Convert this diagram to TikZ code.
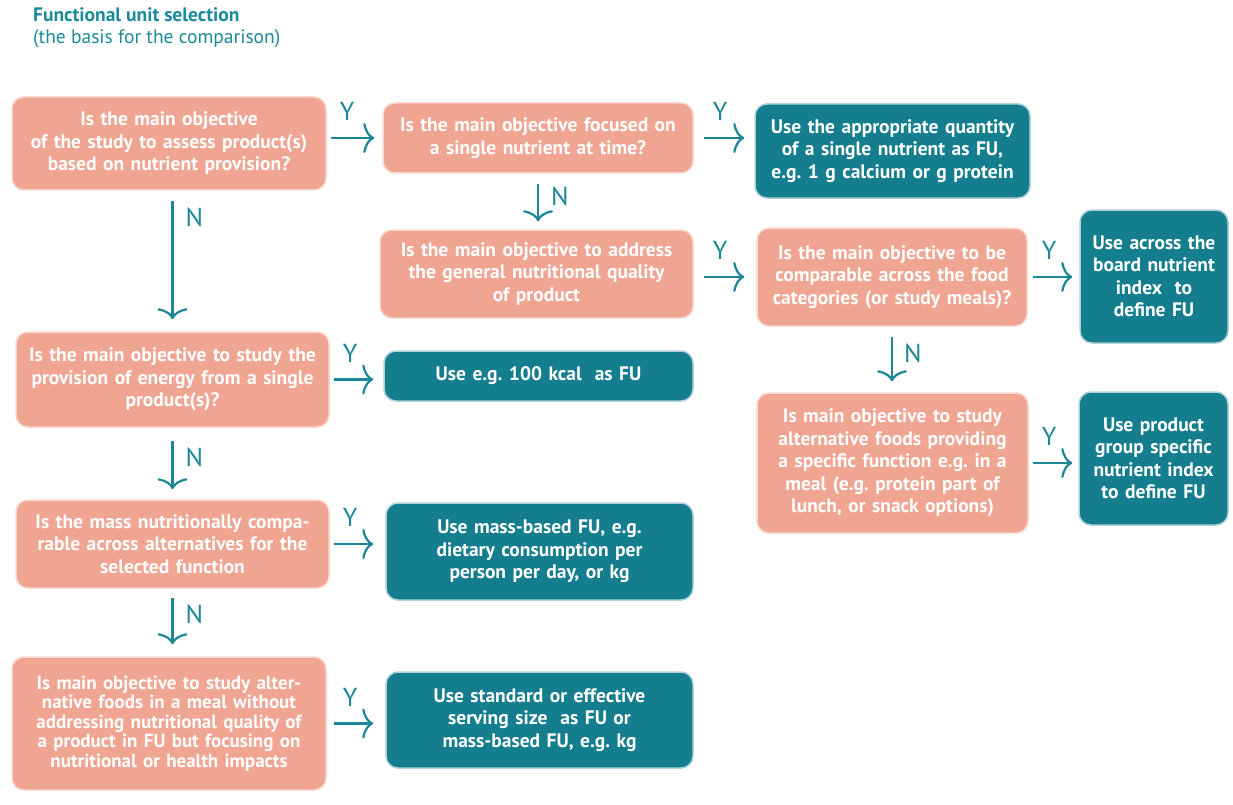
\documentclass[tikz,border=0pt]{standalone}
\usepackage{fontspec}
\setmainfont{PT Sans}
\frenchspacing
\usetikzlibrary{arrows.meta}
\definecolor{salmon}{HTML}{EFA591}
\definecolor{tealbox}{HTML}{157E8E}
\definecolor{tealtxt}{HTML}{1B8B9B}
\definecolor{arrowteal}{HTML}{1D8797}
\tikzset{
  box/.style={rounded corners=12pt, inner sep=0pt, align=center, text=white,
    font=\bfseries\fontsize{19.5}{22.5}\selectfont},
  qbox/.style={box, fill=salmon, draw=salmon!45!white, line width=1.5pt},
  abox/.style={box, fill=tealbox, draw=tealbox!35!white, line width=1.5pt},
  flow/.style={draw=arrowteal, line width=2.2pt, -{To[length=11pt,width=30pt]}},
  ylab/.style={text=arrowteal, font=\fontsize{26}{26}\selectfont, inner sep=0pt},
}
\begin{document}
\begin{tikzpicture}[x=1pt,y=-1pt]
\fill[white] (0,0) rectangle (1233,805);
\useasboundingbox (0,0) rectangle (1233,805);

\node[anchor=base west, inner sep=0pt, text=tealtxt, font=\bfseries\fontsize{19.5}{22}\selectfont] (title) at (33,22) {Functional unit selection};
\node[anchor=base west, inner sep=0pt, text=tealtxt, font=\fontsize{19.5}{22}\selectfont] (subtitle) at (33,44) {(the basis for the comparison)};

\node[qbox, minimum width=314pt, minimum height=93pt, text width=304pt] (A) at (169,143.5)
  {Is the main objective\\of the study to assess product(s)\\based on nutrient provision?};
\node[qbox, minimum width=310pt, minimum height=70pt, text width=300pt] (B) at (538,138)
  {Is the main objective focused on\\a single nutrient at time?};
\node[abox, minimum width=275pt, minimum height=94pt, text width=265pt] (C) at (892.5,151)
  {Use the appropriate quantity\\of a single nutrient as FU,\\e.g. 1 g calcium or g protein};
\node[qbox, minimum width=313pt, minimum height=88pt, text width=303pt] (D) at (536.5,274)
  {Is the main objective to address\\the general nutritional quality\\of product};
\node[qbox, minimum width=270pt, minimum height=98pt, text width=262pt] (E) at (892,277)
  {Is the main objective to be\\comparable across the food\\categories (or study meals)?};
\node[abox, minimum width=148pt, minimum height=133pt, text width=142pt] (F) at (1154,276.5)
  {Use across the\\board nutrient\\index\ \ to\\define FU};
\node[qbox, minimum width=313pt, minimum height=95pt, text width=305pt] (G) at (172.5,379.5)
  {Is the main objective to study the\\provision of energy from a single\\product(s)?};
\node[abox, minimum width=309pt, minimum height=50pt, text width=299pt] (H) at (538.5,376)
  {Use e.g. 100 kcal\ \ as FU};
\node[qbox, minimum width=313pt, minimum height=88pt, text width=305pt] (I) at (172.5,544)
  {Is the mass nutritionally compa-\\rable across alternatives for the\\selected function};
\node[abox, minimum width=307pt, minimum height=97pt, text width=297pt] (J) at (539.5,551.5)
  {Use mass-based FU, e.g.\\dietary consumption per\\person per day, or kg};
\node[qbox, minimum width=314pt, minimum height=133pt, text width=306pt, font=\bfseries\fontsize{19}{19.5}\selectfont] (K) at (169,723.5)
  {Is main objective to study alter-\\native foods in a meal without\\addressing nutritional quality of\\a product in FU but focusing on\\nutritional or health impacts};
\node[abox, minimum width=307pt, minimum height=96pt, text width=297pt] (L) at (539.5,720)
  {Use standard or effective\\serving size\ \ as FU or\\mass-based FU, e.g. kg};
\node[qbox, minimum width=271pt, minimum height=140pt, text width=263pt] (M) at (892.5,463)
  {Is main objective to study\\alternative foods providing\\a specific function e.g. in a\\meal (e.g. protein part of\\lunch, or snack options)};
\node[abox, minimum width=149pt, minimum height=133pt, text width=143pt] (N) at (1153.5,458.5)
  {Use product\\group specific\\nutrient index\\to define FU};

% horizontal (Y) connectors
\draw[flow] ([xshift=4pt]A.east |- B.west) -- ([xshift=-8pt]B.west)
  node[ylab, pos=0, anchor=south west, xshift=8pt, yshift=16pt] (yAB) {Y};
\draw[flow] ([xshift=10pt]B.east) -- ([xshift=-10pt]B.east -| C.west)
  node[ylab, pos=0, anchor=south west, xshift=8pt, yshift=16pt] (yBC) {Y};
\draw[flow] ([xshift=10pt]D.east |- E.west) -- ([xshift=-12pt]E.west)
  node[ylab, pos=0, anchor=south west, xshift=8pt, yshift=16pt] (yDE) {Y};
\draw[flow] ([xshift=5pt]E.east) -- ([xshift=-7pt]E.east -| F.west)
  node[ylab, pos=0, anchor=south west, xshift=8pt, yshift=16pt] (yEF) {Y};
\draw[flow] ([xshift=4pt]M.east) -- ([xshift=-6pt]M.east -| N.west)
  node[ylab, pos=0, anchor=south west, xshift=8pt, yshift=16pt] (yMN) {Y};
\draw[flow] ([xshift=4pt]G.east) -- ([xshift=-10pt]G.east -| H.west)
  node[ylab, pos=0, anchor=south west, xshift=8pt, yshift=16pt] (yGH) {Y};
\draw[flow] ([xshift=4pt]I.east) -- ([xshift=-12pt]I.east -| J.west)
  node[ylab, pos=0, anchor=south west, xshift=8pt, yshift=16pt] (yIJ) {Y};
\draw[flow] ([xshift=7pt]K.east) -- ([xshift=-12pt]K.east -| L.west)
  node[ylab, pos=0, anchor=south west, xshift=8pt, yshift=16pt] (yKL) {Y};

% vertical (N) connectors
\draw[flow] ([yshift=-10pt]G.north |- A.south) -- ([yshift=12pt]G.north)
  node[ylab, pos=0, anchor=north west, xshift=12pt, yshift=-6pt] (nAG) {N};
\draw[flow] ([yshift=-10pt]B.south) -- ([yshift=8pt]B.south |- D.north)
  node[ylab, pos=0, anchor=north west, xshift=12pt, yshift=-2pt] (nBD) {N};
\draw[flow] ([yshift=-10pt]E.south) -- ([yshift=11pt]E.south |- M.north)
  node[ylab, pos=0, anchor=north west, xshift=11pt, yshift=-6pt] (nEM) {N};
\draw[flow] ([yshift=-13pt]G.south) -- ([yshift=10pt]G.south |- I.north)
  node[ylab, pos=0, anchor=north west, xshift=12pt, yshift=-6pt] (nGI) {N};
\draw[flow] ([yshift=-9pt]I.south) -- ([yshift=12pt]I.south |- K.north)
  node[ylab, pos=0, anchor=north west, xshift=12pt, yshift=-6pt] (nIK) {N};
\end{tikzpicture}
\end{document}
